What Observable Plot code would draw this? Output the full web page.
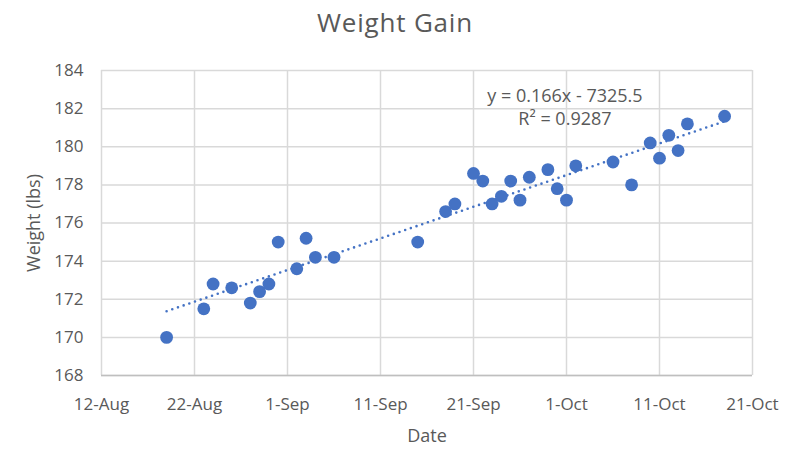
<!DOCTYPE html>
<html>
<head>
<meta charset="utf-8">
<script src="https://cdn.jsdelivr.net/npm/d3@7"></script>
<script src="https://cdn.jsdelivr.net/npm/@observablehq/plot@0.6"></script>
<style>
  body { margin: 0; background: #fff; }
  #title { width: 790px; height: 45px; line-height: 45px; text-align: center; font-family: "Open Sans", sans-serif; font-size: 26px; letter-spacing: 0.8px; color: #595959; }
</style>
</head>
<body>
<div id="title">Weight Gain</div>
<div id="chart"></div>
<script>
const dates = ["2023-08-19","2023-08-23","2023-08-24","2023-08-26","2023-08-28","2023-08-29","2023-08-30","2023-08-31","2023-09-02","2023-09-03","2023-09-04","2023-09-06","2023-09-15","2023-09-18","2023-09-19","2023-09-21","2023-09-22","2023-09-23","2023-09-24","2023-09-25","2023-09-26","2023-09-27","2023-09-29","2023-09-30","2023-10-01","2023-10-02","2023-10-06","2023-10-08","2023-10-10","2023-10-11","2023-10-12","2023-10-13","2023-10-14","2023-10-18"];
const weights = [170.0,171.5,172.8,172.6,171.8,172.4,172.8,175.0,173.6,175.2,174.2,174.2,175.0,176.6,177.0,178.6,178.2,177.0,177.4,178.2,177.2,178.4,178.8,177.8,177.2,179.0,179.2,178.0,180.2,179.4,180.6,179.8,181.2,181.6];
const xTickLabels = ["2023-08-12","2023-08-22","2023-09-01","2023-09-11","2023-09-21","2023-10-01","2023-10-11","2023-10-21"];
const yTicks = [168,170,172,174,176,178,180,182,184];
const trendLabels = ["y = 0.166x - 7325.5", "R² = 0.9287"];

const data = dates.map((d, i) => ({date: new Date(d), weight: weights[i]}));
const xTicks = xTickLabels.map(d => new Date(d));
const blue = "#4472C4";
const gridColor = "#d9d9d9";
const fmt = d3.utcFormat("%-d-%b");

const chart = Plot.plot({
  width: 790,
  height: 415,
  marginLeft: 101,
  marginRight: 38,
  marginTop: 25,
  marginBottom: 85,
  style: {fontFamily: "'Open Sans', sans-serif", fontSize: "17px", color: "#595959", background: "#fff"},
  x: {type: "utc", domain: [xTicks[0], xTicks[xTicks.length - 1]], ticks: xTicks, tickFormat: fmt},
  y: {domain: [168, 184], ticks: yTicks},
  marks: [
    Plot.gridX(xTicks, {stroke: gridColor, strokeOpacity: 1, strokeWidth: 1.5}),
    Plot.gridY(yTicks, {stroke: gridColor, strokeOpacity: 1, strokeWidth: 1.5}),
    Plot.ruleY([168], {stroke: "#bfbfbf", strokeWidth: 1.5}),
    Plot.axisX(xTicks, {tickSize: 0, tickPadding: 22, fontSize: 17, tickFormat: fmt, label: null}),
    Plot.axisY(yTicks, {tickSize: 0, tickPadding: 18, fontSize: 17, label: null}),
    Plot.text(["Date"], {frameAnchor: "bottom", dy: 61, fontSize: 18, fill: "#595959", lineAnchor: "middle"}),
    Plot.text(["Weight (lbs)"], {frameAnchor: "left", dx: -67, rotate: -90, fontSize: 18, fill: "#595959", textAnchor: "middle", lineAnchor: "middle"}),
    Plot.linearRegressionY(data, {x: "date", y: "weight", ci: 0, stroke: blue, strokeWidth: 2.6, strokeDasharray: "0,6", strokeLinecap: "round"}),
    Plot.dot(data, {x: "date", y: "weight", r: 6.4, fill: blue}),
    Plot.text(trendLabels, {
      x: () => new Date("2023-09-30T20:00Z"),
      y: (d, i) => [182.65, 181.45][i],
      text: d => d, fontSize: 18, fill: "#595959", textAnchor: "middle", lineAnchor: "middle"
    })
  ]
});
document.getElementById("chart").appendChild(chart);
</script>
</body>
</html>
